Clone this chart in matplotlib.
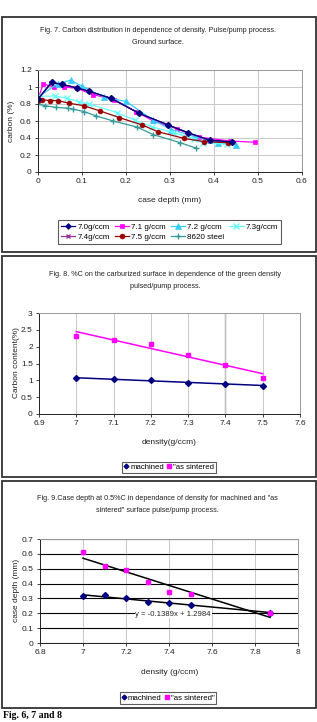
import numpy as np
import matplotlib
matplotlib.use('Agg')
import matplotlib.pyplot as plt
from matplotlib.patches import Rectangle

plt.rcParams['font.family'] = ['Liberation Sans', 'DejaVu Sans']

# ---- Fig. 7 data: carbon profile vs case depth ----
d70_x = [0, 0.031, 0.055, 0.088, 0.116, 0.167, 0.23, 0.296, 0.342, 0.39, 0.44]
d70_y = [0.86, 1.055, 1.03, 0.99, 0.95, 0.865, 0.69, 0.553, 0.46, 0.376, 0.353]
d71_x = [0, 0.012, 0.036, 0.058, 0.088, 0.126, 0.173, 0.223, 0.262, 0.317, 0.367, 0.436, 0.493]
d71_y = [0.86, 1.035, 1.0, 1.0, 0.985, 0.91, 0.85, 0.71, 0.60, 0.506, 0.41, 0.365, 0.35]
d72_x = [0, 0.045, 0.074, 0.10, 0.15, 0.2, 0.262, 0.302, 0.357, 0.41, 0.45]
d72_y = [0.88, 1.04, 1.08, 1.01, 0.88, 0.83, 0.61, 0.50, 0.415, 0.34, 0.32]
d73_x = [0, 0.039, 0.066, 0.093, 0.117, 0.179, 0.22, 0.26, 0.31, 0.355, 0.375, 0.43]
d73_y = [0.89, 0.894, 0.867, 0.827, 0.80, 0.70, 0.61, 0.53, 0.46, 0.39, 0.34, 0.33]
d74_x = [0, 0.03, 0.056, 0.088, 0.117, 0.168, 0.23, 0.296, 0.34, 0.39, 0.44]
d74_y = [0.85, 1.05, 1.03, 0.99, 0.95, 0.86, 0.69, 0.55, 0.46, 0.37, 0.35]
d75_x = [0, 0.01, 0.027, 0.045, 0.07, 0.104, 0.14, 0.185, 0.237, 0.272, 0.332, 0.378, 0.431]
d75_y = [0.83, 0.85, 0.84, 0.84, 0.81, 0.78, 0.72, 0.64, 0.553, 0.475, 0.395, 0.357, 0.345]
s8620_x = [0, 0.016, 0.041, 0.069, 0.079, 0.105, 0.132, 0.171, 0.224, 0.262, 0.323, 0.36]
s8620_y = [0.80, 0.78, 0.76, 0.75, 0.74, 0.71, 0.66, 0.60, 0.53, 0.44, 0.345, 0.28]

# ---- Fig. 8 data: surface carbon vs green density ----
dens8 = [7.0, 7.1, 7.2, 7.3, 7.4, 7.5]
mach8 = [1.06, 1.03, 1.02, 0.93, 0.89, 0.84]
sint8 = [2.32, 2.21, 2.09, 1.76, 1.47, 1.08]

# ---- Fig. 9 data: case depth at 0.5%C vs density ----
dens9 = [7.0, 7.1, 7.2, 7.3, 7.4, 7.5, 7.87]
mach9 = [0.315, 0.32, 0.305, 0.275, 0.27, 0.255, 0.205]
sint9 = [0.61, 0.52, 0.49, 0.41, 0.345, 0.33, 0.205]

W, H = 317, 722
fig = plt.figure(figsize=(W / 100, H / 100), dpi=100)


def px_axes(l, t, r, b):
    return fig.add_axes([l / W, 1 - b / H, (r - l) / W, (b - t) / H])


def frame(t, b):
    fig.patches.append(Rectangle((1.5 / W, 1 - b / H), (W - 3) / W, (b - t) / H,
                                 transform=fig.transFigure, fill=False,
                                 edgecolor='#333333', lw=1.3))


def ftext(x, y, s, **kw):
    fig.text(x / W, 1 - y / H, s, ha='center', va='center', **kw)


def style(ax):
    ax.tick_params(labelsize=6, length=2.5, width=0.6, colors='#222222', pad=2)
    for sp in ax.spines.values():
        sp.set_color('#999999')
        sp.set_linewidth(0.7)
    ax.spines['left'].set_color('#222222')
    ax.spines['bottom'].set_color('#222222')
    ax.set_axisbelow(True)


tfont = dict(fontsize=5.2, family=['Liberation Sans Narrow', 'Liberation Sans'], color='#222222')
lfont = dict(fontsize=6, color='#222222')

# ======== Panel 1 ========
frame(17, 252)
ftext(158, 30, 'Fig. 7. Carbon distribution in dependence of density. Pulse/pump process.', **tfont)
ftext(158, 42, 'Ground surface.', **tfont)
ax1 = px_axes(38, 70, 302, 172)
style(ax1)
series = [
    (d70_x, d70_y, '7.0g/ccm', '#000080', 'D', 3),
    (d71_x, d71_y, '7.1 g/ccm', '#FF00FF', 's', 3.5),
    (d72_x, d72_y, '7.2 g/ccm', '#33CCFF', '^', 4),
    (d73_x, d73_y, '7.3g/ccm', '#66FFFF', 'x', 4),
    (d74_x, d74_y, '7.4g/ccm', '#993399', 'x', 3.5),
    (d75_x, d75_y, '7.5 g/ccm', '#990000', 'o', 3.5),
    (s8620_x, s8620_y, '8620 steel', '#339999', '+', 5),
]
handles = []
for x, y, lab, c, m, ms in series:
    h, = ax1.plot(x, y, color=c, marker=m, ms=ms, lw=0.9, label=lab,
                  markeredgewidth=1 if m in 'x+' else 0.5)
    handles.append(h)
# redraw 7.0 on top so navy diamonds show above 7.4
ax1.plot(d70_x, d70_y, color='#000080', marker='D', ms=3, lw=0.9)
ax1.set_xlim(0, 0.6)
ax1.set_ylim(0, 1.2)
ax1.set_xticks(np.arange(0, 0.61, 0.1))
ax1.set_xticklabels(['0', '0.1', '0.2', '0.3', '0.4', '0.5', '0.6'])
ax1.set_yticks(np.arange(0, 1.21, 0.2))
ax1.set_yticklabels(['0', '0.2', '0.4', '0.6', '0.8', '1', '1.2'])
ax1.grid(True, color='#C8C8C8', lw=0.7)
ftext(170, 200, 'case depth (mm)', **lfont)
fig.text(12 / W, 1 - 121 / H, 'carbon (%)', rotation=90, ha='center', va='center', **lfont)
order = [0, 4, 1, 5, 2, 6, 3]
leg = fig.legend([handles[i] for i in order], [handles[i].get_label() for i in order],
                 ncol=4, loc='center', bbox_to_anchor=(169.5 / W, 1 - 232 / H),
                 fontsize=5.8, frameon=True, fancybox=False, edgecolor='#333333',
                 handlelength=1.8, handletextpad=0.25, columnspacing=0.6,
                 labelspacing=0.35, borderpad=0.35)
leg.get_frame().set_linewidth(0.8)

# ======== Panel 2 ========
frame(256, 477)
ftext(165, 275, 'Fig. 8. %C on the carburized surface in dependence of the green density', **tfont)
ftext(165, 287, 'pulsed/pump process.', **tfont)
ax2 = px_axes(39, 313, 300, 414)
style(ax2)
xd = np.array(dens8)
for yv, c in [(mach8, '#000080'), (sint8, '#FF00FF')]:
    k, b = np.polyfit(xd, yv, 1)
    ax2.plot(xd[[0, -1]], k * xd[[0, -1]] + b, color=c, lw=1.1)
ph1, = ax2.plot(dens8, mach8, 'D', color='#000080', ms=3, label='machined')
ph2, = ax2.plot(dens8, sint8, 's', color='#FF00FF', ms=3.5, label='"as sintered')
ax2.set_xlim(6.9, 7.6)
ax2.set_ylim(0, 3)
ax2.set_xticks([6.9, 7.0, 7.1, 7.2, 7.3, 7.4, 7.5, 7.6])
ax2.set_xticklabels(['6.9', '7', '7.1', '7.2', '7.3', '7.4', '7.5', '7.6'])
ax2.set_yticks([0, 0.5, 1, 1.5, 2, 2.5, 3])
ax2.set_yticklabels(['0', '0.5', '1', '1.5', '2', '2.5', '3'])
ax2.grid(True, axis='x', color='#C8C8C8', lw=0.7)
ax2.axvline(7.4, color='#555555', lw=0.9, zorder=0.5)
ftext(169, 443, 'density(g/ccm)', **lfont)
fig.text(17 / W, 1 - 363 / H, 'Carbon content(%)', rotation=90, ha='center', va='center', **lfont)
leg2 = fig.legend([ph1, ph2], ['machined', '"as sintered'], ncol=2, loc='center',
                  bbox_to_anchor=(169 / W, 1 - 467.5 / H), fontsize=5.6, frameon=True,
                  fancybox=False, edgecolor='#333333', handlelength=0.6,
                  handletextpad=0.2, columnspacing=0.4, borderpad=0.25, markerscale=0.8)
leg2.get_frame().set_linewidth(0.8)

# ======== Panel 3 ========
frame(481, 708)
ftext(157, 498, 'Fig. 9.Case depth at 0.5%C in dependance of density for machined and "as', **tfont)
ftext(157, 511, 'sintered" surface pulse/pump process.', **tfont)
ax3 = px_axes(40, 539, 298, 643)
style(ax3)
xd9 = np.array(dens9)
for yv in (mach9, sint9):
    k, b = np.polyfit(xd9, yv, 1)
    ax3.plot(xd9[[0, -1]], k * xd9[[0, -1]] + b, color='black', lw=1.1)
ph3, = ax3.plot(dens9, mach9, 'D', color='#000080', ms=3, label='machined')
ph4, = ax3.plot(dens9, sint9, 's', color='#FF00FF', ms=3.5, label='"as sintered"')
ax3.set_xlim(6.8, 8.0)
ax3.set_ylim(0, 0.7)
ax3.set_xticks([6.8, 7.0, 7.2, 7.4, 7.6, 7.8, 8.0])
ax3.set_xticklabels(['6.8', '7', '7.2', '7.4', '7.6', '7.8', '8'])
ax3.set_yticks(np.arange(0, 0.71, 0.1))
ax3.set_yticklabels(['0', '0.1', '0.2', '0.3', '0.4', '0.5', '0.6', '0.7'])
ax3.grid(True, axis='x', color='#C8C8C8', lw=0.7)
ax3.grid(True, axis='y', color='black', lw=0.8)
ax3.text(7.42, 0.195, 'y = -0.1389x + 1.2984', fontsize=5.6, ha='center', va='center',
         color='#222222', bbox=dict(facecolor='white', edgecolor='none', pad=0.5))
ftext(170, 672, 'density (g/ccm)', **lfont)
fig.text(17 / W, 1 - 590 / H, 'case depth (mm)', rotation=90, ha='center', va='center', **lfont)
leg3 = fig.legend([ph3, ph4], ['machined', '"as sintered"'], ncol=2, loc='center',
                  bbox_to_anchor=(168 / W, 1 - 698 / H), fontsize=5.6, frameon=True,
                  fancybox=False, edgecolor='#333333', handlelength=0.6,
                  handletextpad=0.2, columnspacing=0.4, borderpad=0.25, markerscale=0.8)
leg3.get_frame().set_linewidth(0.8)

# caption at the bottom of the page
fig.text(3 / W, 1 - 711 / H, 'Fig. 6, 7 and 8', fontsize=7, fontweight='bold',
         family='Liberation Serif', ha='left', va='top')

fig.savefig('out.png', dpi=100)
